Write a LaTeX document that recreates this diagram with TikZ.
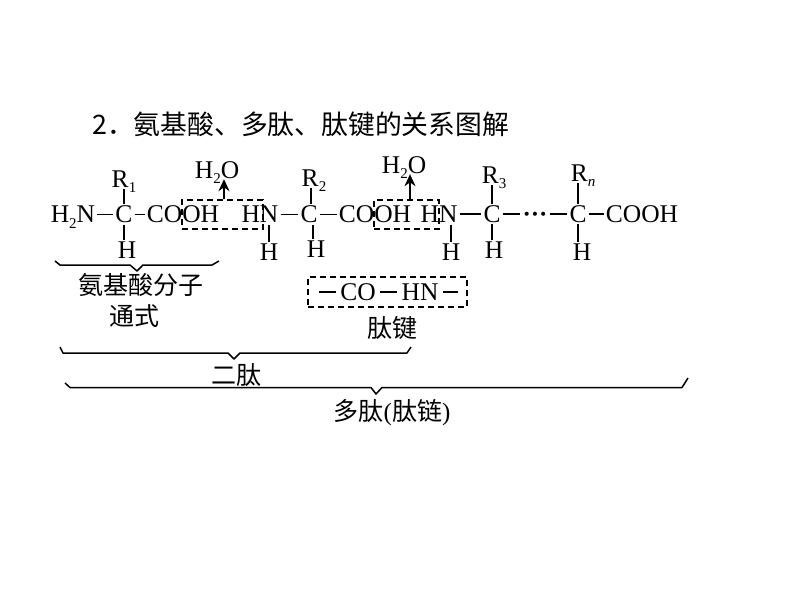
\documentclass[tikz,border=0pt]{standalone}
\usepackage{fontspec}
\setmainfont{Liberation Serif}
\newfontfamily\cjk{Noto Sans CJK SC}
\newcommand{\lowtext}[1]{\raisebox{-0.22em}{\fontsize{15}{15}\selectfont #1}}
\tikzset{
  chem/.style={inner sep=1pt,font=\fontsize{25.5}{25}\selectfont,text height=16pt,text depth=0pt},
  label/.style={inner sep=0pt,font=\fontsize{25}{28}\selectfont\cjk,align=center},
  bond/.style={line width=1.4pt,shorten >=1pt,shorten <=1pt},
  gapbond/.style={line width=1.4pt,shorten >=3pt,shorten <=3pt},
  box/.style={draw,dashed,line width=1.4pt,dash pattern=on 6pt off 4pt,inner sep=0pt},
  brace/.style={line width=1.5pt,line join=round},
  up/.style={line width=1.8pt,-{Stealth[length=12pt,width=11pt]}}
}
\usetikzlibrary{arrows.meta}
\begin{document}
\begin{tikzpicture}[x=1pt,y=-1pt]
\useasboundingbox[fill=white] (0,0) rectangle (800,600);
% dashed frames
\node[box,minimum width=81pt,minimum height=29pt] (f1) at (222.5,214.5) {};
\node[box,minimum width=65pt,minimum height=29pt] (f2) at (406.5,214.5) {};
\node[box,minimum width=159pt,minimum height=30pt] (f3) at (387.5,292) {};
% title
\node[inner sep=0pt,anchor=west,font=\fontsize{26.8}{27}\selectfont\cjk] (title) at (92,124) {2．氨基酸、多肽、肽键的关系图解};
% chain
\node[chem] (n1) at (73,214.5) {H\lowtext{2}N};
\node[chem] (c1) at (124,214.5) {C};
\node[chem] (cooh1) at (183,214.5) {COOH};
\node[chem] (r1) at (124,179) {R\lowtext{1}};
\node[chem] (h1) at (127,250) {H};
\node[chem] (n2) at (260,214.5) {HN};
\node[chem] (h2) at (269,252) {H};
\node[chem] (c2) at (309,214.5) {C};
\node[chem] (cooh2) at (375,214.5) {COOH};
\node[chem] (r2) at (314,178) {R\lowtext{2}};
\node[chem] (h3) at (316,249) {H};
\node[chem] (n3) at (439,214.5) {HN};
\node[chem] (h4) at (451,252) {H};
\node[chem] (c3) at (492,214) {C};
\node[chem] (r3) at (494,175) {R\lowtext{3}};
\node[chem] (h5) at (494,250) {H};
\node[chem,font=\fontsize{25}{25}\selectfont\bfseries] (dots) at (535,214) {···};
\node[chem] (c4) at (578,214) {C};
\node[chem] (r4) at (583,173) {R\lowtext{\itshape n}};
\node[chem] (h6) at (582,252) {H};
\node[chem] (cooh3) at (642,214) {COOH};
\node[chem] (w1) at (217,170) {H\lowtext{2}O};
\node[chem] (w2) at (404,165) {H\lowtext{2}O};
% bonds
\draw[bond] (n1.east) -- (c1.west);
\draw[bond] (c1.east) -- (cooh1.west);
\draw[bond] (c1.north) -- (r1.south);
\draw[bond] (c1.south) -- (h1.north -| c1.south);
\draw[bond] (n2.east) -- (c2.west);
\draw[bond] (c2.east) -- (cooh2.west);
\draw[bond] (n2.south -| h2.north) -- (h2.north);
\draw[bond] (c2.north -| 311,0) -- (r2.south -| 311,0);
\draw[bond] (c2.south -| 313,0) -- (h3.north -| 313,0);
\draw[bond] (n3.east |- c3.west) -- (c3.west);
\draw[bond] (n3.south -| h4.north) -- (h4.north);
\draw[bond] (c3.north) -- (r3.south -| c3.north);
\draw[bond] (c3.south) -- (h5.north -| c3.south);
\draw[bond] (c3.east) -- (dots.west);
\draw[bond] (dots.east) -- (c4.west);
\draw[bond] (c4.north) -- (r4.south -| c4.north);
\draw[bond] (c4.south) -- (h6.north -| c4.south);
\draw[bond] (c4.east) -- (cooh3.west);
% water leaving
\draw[up] (f1.north -| 224,0) -- (w1.south -| 224,0);
\draw[up] (f2.north -| 410,0) -- (w2.south -| 410,0);
% peptide bond
\node[chem] (co) at (358,292) {CO};
\node[chem] (hn) at (420,292) {HN};
\coordinate (p1) at (316,292);
\coordinate (p2) at (461,292);
\draw[gapbond] (p1) -- (co.west);
\draw[gapbond] (co.east) -- (hn.west);
\draw[gapbond] (hn.east) -- (p2);
% braces
\draw[brace] (55,261) -- (60,265) -- (130,265) -- (137,271) -- (143,265) -- (212,265) -- (219,261);
\draw[brace] (60,347) -- (63,353) -- (228,353) -- (234,359) -- (240,353) -- (407,353) -- (411,347);
\draw[brace] (65,383) -- (70,387.5) -- (371,387.5) -- (376,394) -- (382,387.5) -- (682,387.5) -- (688,378);
% labels
\node[label] (l1) at (141,285) {氨基酸分子};
\node[label] (l2) at (134,316) {通式};
\node[label] (l3) at (392,328) {肽键};
\node[label] (l4) at (236,375) {二肽};
\node[label] (l5) at (392,413) {多肽{\rmfamily(}肽链{\rmfamily)}};
\end{tikzpicture}
\end{document}
